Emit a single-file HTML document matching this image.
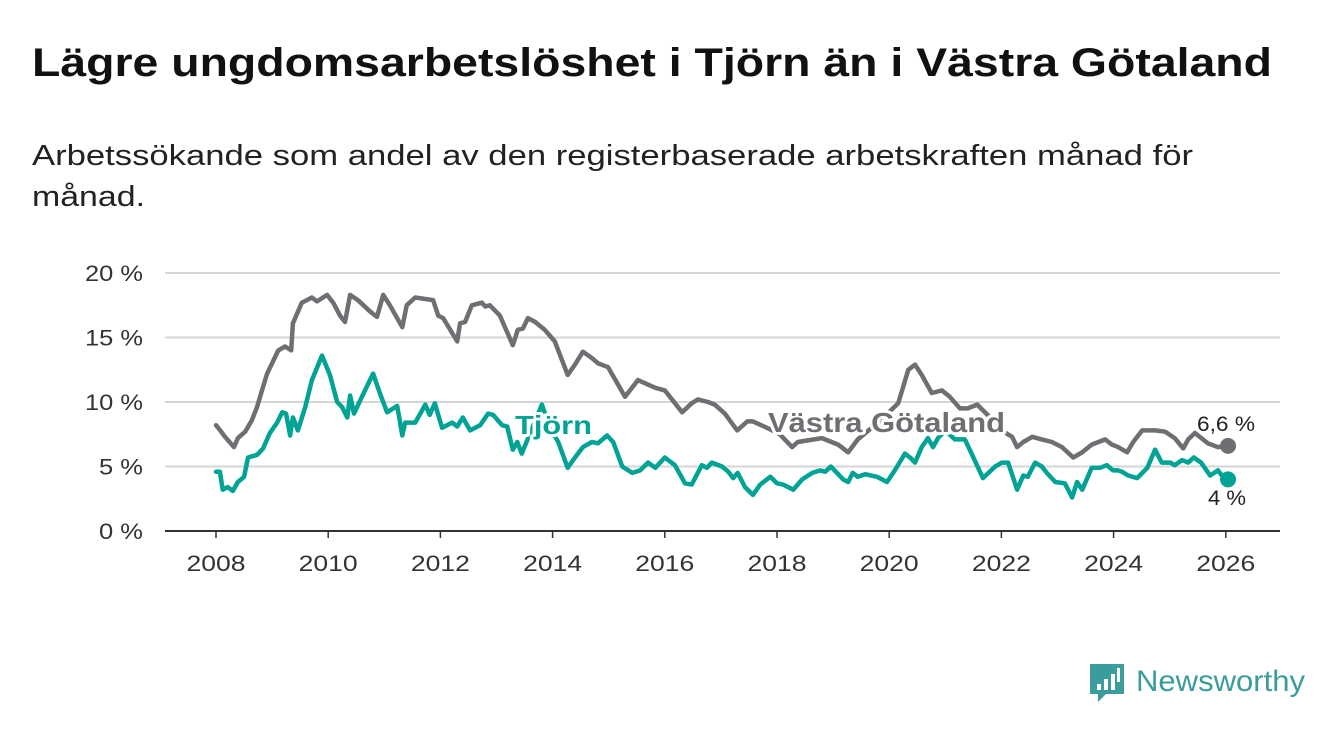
<!DOCTYPE html>
<html><head><meta charset="utf-8"><style>
body{margin:0;background:#fff;width:1340px;height:734px;overflow:hidden;font-family:"Liberation Sans",sans-serif}
svg{display:block}
</style></head><body>
<svg id="chart" width="1340" height="734">
<text x="32" y="76" font-size="40" font-weight="bold" fill="#111" textLength="1240" lengthAdjust="spacingAndGlyphs">Lägre ungdomsarbetslöshet i Tjörn än i Västra Götaland</text>
<text x="32" y="165" font-size="29" fill="#222" textLength="1161" lengthAdjust="spacingAndGlyphs">Arbetssökande som andel av den registerbaserade arbetskraften månad för</text>
<text x="32" y="206" font-size="29" fill="#222" textLength="113" lengthAdjust="spacingAndGlyphs">månad.</text>
<g id="grid"></g><g id="series"></g><g id="labels"></g>
<g>
<path d="M1090 664 h34 v30 h-18 l-8 8 v-8 h-8 z" fill="#3a9c9b"/>
<rect x="1097" y="684" width="4" height="6" fill="#fff"/><rect x="1104" y="679" width="4" height="11" fill="#fff"/><rect x="1111" y="674" width="4" height="16" fill="#fff"/><rect x="1117" y="668" width="3" height="14" fill="#fff"/>
<text x="1136" y="691" font-size="30" fill="#3a9c9b" textLength="169" lengthAdjust="spacingAndGlyphs">Newsworthy</text>
</g>
</svg>
<script>
const yTicks=[0,5,10,15,20];
const xTicks=[2008,2010,2012,2014,2016,2018,2020,2022,2024,2026];
// [year, percent]
const vastraGotaland=[[2008.0,8.2],[2008.04,8.0],[2008.16,7.3],[2008.32,6.5],[2008.39,7.2],[2008.52,7.7],[2008.64,8.6],[2008.73,9.6],[2008.82,10.9],[2008.91,12.2],[2009.11,14.0],[2009.23,14.3],[2009.34,14.0],[2009.37,16.1],[2009.53,17.7],[2009.71,18.1],[2009.8,17.8],[2009.98,18.3],[2010.09,17.7],[2010.21,16.7],[2010.3,16.2],[2010.39,18.3],[2010.53,17.9],[2010.75,17.0],[2010.87,16.6],[2010.98,18.3],[2011.1,17.5],[2011.32,15.8],[2011.4,17.5],[2011.55,18.1],[2011.87,17.9],[2011.96,16.7],[2012.05,16.5],[2012.3,14.7],[2012.35,16.1],[2012.44,16.2],[2012.56,17.5],[2012.74,17.7],[2012.8,17.4],[2012.88,17.5],[2013.06,16.7],[2013.29,14.4],[2013.38,15.6],[2013.47,15.7],[2013.56,16.5],[2013.69,16.2],[2013.86,15.6],[2014.04,14.7],[2014.27,12.1],[2014.4,12.9],[2014.54,13.9],[2014.7,13.4],[2014.81,13.0],[2014.99,12.7],[2015.29,10.4],[2015.38,10.9],[2015.52,11.7],[2015.83,11.1],[2016.0,10.9],[2016.31,9.2],[2016.48,9.9],[2016.59,10.2],[2016.77,10.0],[2016.89,9.8],[2017.07,9.1],[2017.29,7.8],[2017.47,8.5],[2017.57,8.5],[2017.82,8.0],[2018.05,7.5],[2018.27,6.5],[2018.37,6.9],[2018.8,7.2],[2019.09,6.7],[2019.27,6.1],[2019.44,7.1],[2019.8,8.4],[2020.16,9.9],[2020.34,12.5],[2020.46,12.9],[2020.58,12.1],[2020.76,10.7],[2020.94,10.9],[2021.08,10.4],[2021.26,9.5],[2021.4,9.5],[2021.57,9.8],[2021.8,8.8],[2022.0,7.8],[2022.19,7.3],[2022.28,6.5],[2022.39,6.9],[2022.55,7.3],[2022.72,7.1],[2022.9,6.9],[2023.08,6.5],[2023.28,5.7],[2023.44,6.1],[2023.61,6.7],[2023.85,7.1],[2023.97,6.7],[2024.08,6.5],[2024.24,6.1],[2024.35,6.9],[2024.51,7.8],[2024.74,7.8],[2024.92,7.7],[2025.09,7.2],[2025.24,6.4],[2025.33,7.1],[2025.45,7.6],[2025.68,6.8],[2025.86,6.5],[2026.04,6.6]];
const tjorn=[[2008.0,4.6],[2008.07,4.6],[2008.12,3.2],[2008.21,3.4],[2008.3,3.1],[2008.39,3.8],[2008.5,4.2],[2008.57,5.7],[2008.73,5.9],[2008.84,6.4],[2008.96,7.6],[2009.09,8.4],[2009.18,9.2],[2009.25,9.1],[2009.32,7.4],[2009.37,8.8],[2009.46,7.8],[2009.59,9.6],[2009.71,11.7],[2009.89,13.6],[2010.03,12.1],[2010.16,10.0],[2010.25,9.6],[2010.34,8.8],[2010.39,10.5],[2010.46,9.1],[2010.6,10.4],[2010.8,12.2],[2010.92,10.7],[2011.05,9.2],[2011.23,9.7],[2011.32,7.4],[2011.37,8.4],[2011.55,8.4],[2011.73,9.8],[2011.81,9.0],[2011.9,9.9],[2012.03,8.0],[2012.21,8.4],[2012.3,8.1],[2012.4,8.8],[2012.53,7.8],[2012.71,8.2],[2012.85,9.1],[2012.94,9.0],[2013.1,8.2],[2013.19,8.1],[2013.29,6.3],[2013.37,6.9],[2013.45,6.0],[2013.62,7.8],[2013.81,9.8],[2013.95,8.0],[2014.1,6.9],[2014.27,4.9],[2014.4,5.7],[2014.54,6.5],[2014.7,6.9],[2014.81,6.8],[2014.97,7.4],[2015.08,6.9],[2015.24,5.0],[2015.42,4.5],[2015.56,4.7],[2015.7,5.3],[2015.83,4.9],[2016.0,5.7],[2016.18,5.1],[2016.36,3.7],[2016.48,3.6],[2016.66,5.1],[2016.75,4.9],[2016.84,5.3],[2017.02,5.0],[2017.13,4.6],[2017.22,4.1],[2017.3,4.5],[2017.43,3.4],[2017.57,2.8],[2017.7,3.6],[2017.88,4.2],[2018.0,3.7],[2018.11,3.6],[2018.29,3.2],[2018.45,4.0],[2018.63,4.5],[2018.77,4.7],[2018.86,4.6],[2018.96,5.0],[2019.07,4.5],[2019.18,4.0],[2019.27,3.8],[2019.35,4.5],[2019.44,4.2],[2019.57,4.4],[2019.78,4.2],[2019.96,3.8],[2020.1,4.7],[2020.28,6.0],[2020.37,5.7],[2020.46,5.3],[2020.58,6.5],[2020.69,7.2],[2020.78,6.5],[2020.87,7.2],[2021.0,7.8],[2021.17,7.1],[2021.35,7.1],[2021.48,5.9],[2021.67,4.1],[2021.89,5.0],[2022.01,5.3],[2022.12,5.3],[2022.28,3.2],[2022.39,4.3],[2022.47,4.2],[2022.6,5.3],[2022.72,5.0],[2022.81,4.5],[2022.96,3.8],[2023.13,3.7],[2023.26,2.6],[2023.35,3.8],[2023.44,3.2],[2023.61,4.9],[2023.76,4.9],[2023.88,5.1],[2023.99,4.7],[2024.08,4.7],[2024.15,4.6],[2024.26,4.3],[2024.42,4.1],[2024.6,4.9],[2024.74,6.3],[2024.86,5.3],[2025.01,5.3],[2025.09,5.1],[2025.22,5.5],[2025.33,5.3],[2025.43,5.7],[2025.56,5.3],[2025.72,4.3],[2025.86,4.7],[2025.93,4.3],[2026.04,4.0]];
const X=y=>216+(y-2008)*56.1, Y=v=>531-v*12.9;
const NS='http://www.w3.org/2000/svg';
function mk(tag,attrs,parent,txt){const e=document.createElementNS(NS,tag);for(const k in attrs)e.setAttribute(k,attrs[k]);if(txt!==undefined)e.textContent=txt;parent.appendChild(e);return e;}
const grid=document.getElementById('grid'),ser=document.getElementById('series'),lab=document.getElementById('labels');
yTicks.forEach(t=>{
 const l=mk('line',{x1:165,x2:1280,y1:Y(t),y2:Y(t),stroke:t===0?'#333':'#d6d6d6','stroke-width':2},grid);
 
 
 const s=t+' %';
 const tx=mk('text',{x:143,y:Y(t)+8,'text-anchor':'end','font-size':22,fill:'#333',textLength:s.length===4?58:44,lengthAdjust:'spacingAndGlyphs'},grid,s);
 
 
});
xTicks.forEach(t=>{
 const tk=mk('line',{x1:X(t),x2:X(t),y1:531,y2:538,stroke:'#333','stroke-width':1.5},grid);
 
 
 const tx=mk('text',{x:X(t),y:571,'text-anchor':'middle','font-size':22,fill:'#333',textLength:59,lengthAdjust:'spacingAndGlyphs'},grid,String(t));
 
 
});
function line(pts,col,name){
 const d=pts.map((p,i)=>(i?'L':'M')+X(p[0]).toFixed(1)+' '+Y(p[1]).toFixed(1)).join(' ');
 const p=mk('path',{d:d,fill:'none',stroke:col,'stroke-width':4.5,'stroke-linejoin':'round','stroke-linecap':'round'},ser);
 
 
 const last=pts[pts.length-1];
 const c=mk('circle',{cx:X(last[0]),cy:Y(last[1]),r:8,fill:col},ser);
 
 
}
line(vastraGotaland,'#6f6e73','vastra-gotaland-line');
line(tjorn,'#00a394','tjorn-line');
function lbl(x,y,s,col,size,bold,len,name){
 const t=mk('text',{x:x,y:y,'font-size':size,'font-weight':bold?'bold':'normal',fill:col,stroke:'#fff','stroke-width':6,'paint-order':'stroke','stroke-linejoin':'round',textLength:len,lengthAdjust:'spacingAndGlyphs'},lab,s);
 
 
}
lbl(768,432,'Västra Götaland','#6f6e73',28,true,237,'vastra-gotaland-label');
lbl(515,434,'Tjörn','#00a394',26,true,77,'tjorn-label');
lbl(1197,431,'6,6 %','#222',21,false,58,'vastra-gotaland-end-value');
lbl(1208,505,'4 %','#222',21,false,38,'tjorn-end-value');
</script>
</body></html>
